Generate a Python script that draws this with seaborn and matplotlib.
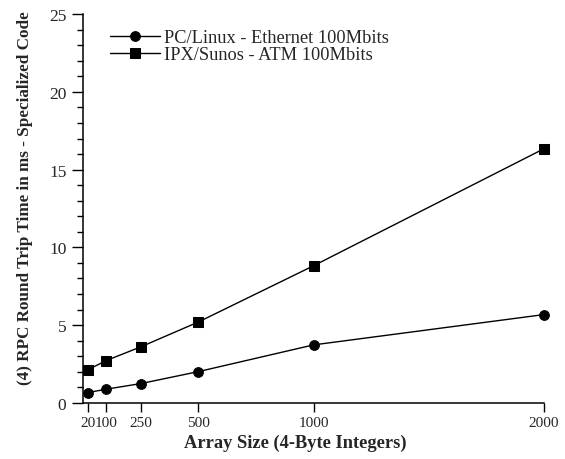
import numpy as np
import pandas as pd
import matplotlib
matplotlib.use('Agg')
import matplotlib.pyplot as plt
import seaborn as sns

array_sizes = [20, 100, 250, 500, 1000, 2000]
pc_linux = [0.66, 0.88, 1.24, 2.01, 3.73, 5.68]
ipx_sunos = [2.12, 2.72, 3.6, 5.2, 8.82, 16.35]
series_names = ['PC/Linux - Ethernet 100Mbits', 'IPX/Sunos - ATM 100Mbits']

df = pd.DataFrame({
    'size': array_sizes * 2,
    'time': pc_linux + ipx_sunos,
    'series': [series_names[0]] * len(array_sizes) + [series_names[1]] * len(array_sizes),
})

sns.set_style('ticks')
plt.rcParams['font.family'] = ['Liberation Serif', 'DejaVu Serif']

fig = plt.figure(figsize=(5.65, 4.6), dpi=100)
ax = fig.add_axes([0.147, 0.122, 0.816, 0.845])

sns.lineplot(data=df, x='size', y='time', hue='series', style='series',
             palette=['black', 'black'], markers=['o', 's'], dashes=False,
             markersize=7, linewidth=1.0, markeredgecolor='black',
             clip_on=False, ax=ax)

ax.set_xlim(0, 2000)
ax.set_ylim(0, 25)
ax.set_xticks(array_sizes)
ax.set_xticklabels([str(s) for s in array_sizes], fontsize=11)
ax.set_yticks([0, 5, 10, 15, 20, 25])
ax.set_yticks(np.arange(0, 26, 1), minor=True)
ax.tick_params(axis='y', which='major', length=8, width=1, labelsize=12.5, color='black', pad=4)
ax.tick_params(axis='y', which='minor', length=4, width=1, color='black')
ax.tick_params(axis='x', which='major', length=6.5, width=1, color='black', pad=3)
ax.tick_params(axis='x', which='minor', length=0)

sns.despine(ax=ax)
for s in ['left', 'bottom']:
    ax.spines[s].set_color('black')
    ax.spines[s].set_linewidth(1.1)

ax.set_xlabel('Array Size (4-Byte Integers)', fontsize=13.3, fontweight='bold', labelpad=4)
ax.xaxis.set_label_coords(0.46, -0.08)
ax.set_ylabel('(4) RPC Round Trip Time in ms - Specialized Code', fontsize=12.3,
              fontweight='bold')
ax.yaxis.set_label_coords(-0.108, 0.53)

ax.legend(loc='upper left', bbox_to_anchor=(0.035, 0.99), frameon=False,
          fontsize=13.2, handlelength=2.7, handletextpad=0.25, labelspacing=0.0,
          borderaxespad=0.2, title=None)

fig.savefig('out.png', dpi=100)
